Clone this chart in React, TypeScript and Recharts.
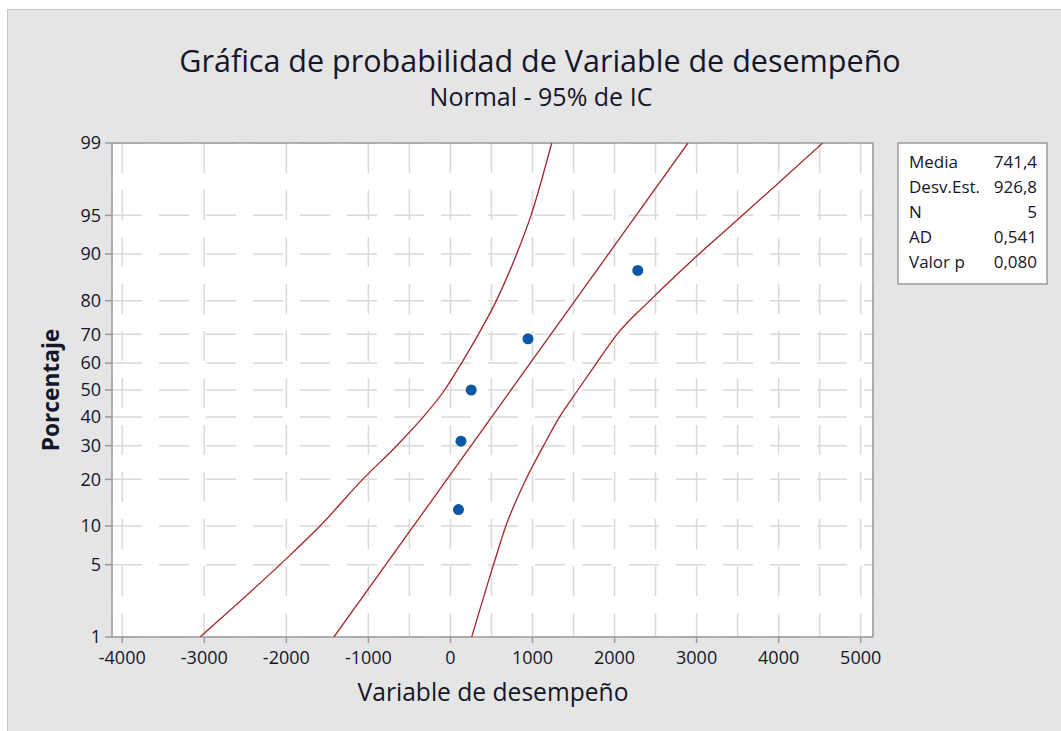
import { ScatterChart, Scatter, XAxis, YAxis, CartesianGrid, ReferenceLine } from 'recharts';

// probability axis labels (percent)
const percentTicks = [1, 5, 10, 20, 30, 40, 50, 60, 70, 80, 90, 95, 99];
const xTicks = [-4000, -3000, -2000, -1000, 0, 1000, 2000, 3000, 4000, 5000];
const xGridTicks = [-4000, -3500, -3000, -2500, -2000, -1500, -1000, -500, 0, 500, 1000, 1500, 2000, 2500, 3000, 3500, 4000, 4500, 5000];

// sample (Variable de desempeño) with its plotting positions
const sampleValues = [98, 128, 253, 945, 2283];
const samplePercents = [13.0, 31.5, 50.0, 68.5, 87.0];

// fitted line, read at 1% and 99%
const fitPercents = [1, 99];
const fitValues = [-1420, 2895];

// 95% confidence bands, read at each percent gridline
const bandPercents = [1, 5, 10, 20, 30, 40, 50, 60, 70, 80, 90, 95, 99];
const leftBand = [-3052, -2077, -1590, -1070, -655, -331, -71, 135, 340, 560, 807, 982, 1234];
const rightBand = [259, 525, 675, 920, 1135, 1330, 1553, 1780, 2030, 2430, 3030, 3560, 4537];

const statLabels = ['Media', 'Desv.Est.', 'N', 'AD', 'Valor p'];
const statValues = ['741,4', '926,8', '5', '0,541', '0,080'];

// inverse normal cdf, used as the probability scale of the y axis
function probit(p: number) {
  const a = [-39.69683028665376, 220.9460984245205, -275.9285104469687, 138.357751867269, -30.66479806614716, 2.506628277459239];
  const b = [-54.47609879822406, 161.5858368580409, -155.6989798598866, 66.80131188771972, -13.28068155288572];
  const c = [-0.007784894002430293, -0.3223964580411365, -2.400758277161838, -2.549732539343734, 4.374664141464968, 2.938163982698783];
  const d = [0.007784695709041462, 0.3224671290700398, 2.445134137142996, 3.754408661907416];
  const pl = 0.02425;
  if (p < pl) {
    const q = Math.sqrt(-2 * Math.log(p));
    return (((((c[0] * q + c[1]) * q + c[2]) * q + c[3]) * q + c[4]) * q + c[5]) / ((((d[0] * q + d[1]) * q + d[2]) * q + d[3]) * q + 1);
  }
  if (p > 1 - pl) {
    const q = Math.sqrt(-2 * Math.log(1 - p));
    return -(((((c[0] * q + c[1]) * q + c[2]) * q + c[3]) * q + c[4]) * q + c[5]) / ((((d[0] * q + d[1]) * q + d[2]) * q + d[3]) * q + 1);
  }
  const q = p - 0.5;
  const r = q * q;
  return (((((a[0] * r + a[1]) * r + a[2]) * r + a[3]) * r + a[4]) * r + a[5]) * q / (((((b[0] * r + b[1]) * r + b[2]) * r + b[3]) * r + b[4]) * r + 1);
}

const z = (pct: number) => probit(pct / 100);
const toPoints = (xs: number[], ps: number[]) => xs.map((x, i) => ({ x, y: z(ps[i]) }));

const samplePoints = toPoints(sampleValues, samplePercents);
const fitPoints = toPoints(fitValues, fitPercents);
const leftPoints = toPoints(leftBand, bandPercents);
const rightPoints = toPoints(rightBand, bandPercents);

const yTicks = percentTicks.map(z);
const labelFor = new Map(yTicks.map((t, i) => [t, String(percentTicks[i])]));
const yDomain = [z(1), z(99)];
const xDomain = [-4125, 5150];

const FONT = '"Open Sans", "Noto Sans", sans-serif';
const TEXT = '#16162a';
const AXIS = '#9a9a9a';
const RED = '#a2262b';
const BLUE = '#0b57a4';

const noShape = () => <g />;
const dot = (props: any) => <circle cx={props.cx} cy={props.cy} r={5.5} fill={BLUE} />;

export default function App() {
  return (
    <div style={{ position: 'absolute', left: 0, top: 0, width: 1061, height: 731, background: '#fff', fontFamily: FONT }}>
      <div style={{ position: 'absolute', left: 7, top: 9, width: 1054, height: 722, background: '#e5e5e5', borderLeft: '1px solid #c6c6c6', borderTop: '1px solid #c6c6c6' }} />
      <div style={{ position: 'absolute', left: 0, top: 0 }}>
        <ScatterChart width={1061} height={731} margin={{ top: 143, right: 188, bottom: 64, left: 42 }}>
          <CartesianGrid xAxisId="grid" fill="#ffffff" stroke="#d9d9d9" strokeWidth={1.5} strokeDasharray="30 17" />
          <XAxis xAxisId="grid" type="number" dataKey="x" domain={xDomain} ticks={xGridTicks} allowDataOverflow hide />
          <XAxis
            type="number"
            dataKey="x"
            domain={xDomain}
            ticks={xTicks}
            allowDataOverflow
            height={30}
            tickSize={6}
            tickMargin={8}
            axisLine={{ stroke: AXIS, strokeWidth: 1.5 }}
            tickLine={{ stroke: AXIS, strokeWidth: 1.5 }}
            tick={{ fill: TEXT, fontSize: 18, fontFamily: FONT }}
          />
          <YAxis
            type="number"
            dataKey="y"
            domain={yDomain}
            ticks={yTicks}
            allowDataOverflow
            width={70}
            tickSize={7}
            tickMargin={4}
            tickFormatter={(v: number) => labelFor.get(v) ?? ''}
            axisLine={{ stroke: AXIS, strokeWidth: 1.5 }}
            tickLine={{ stroke: AXIS, strokeWidth: 1.5 }}
            tick={{ fill: TEXT, fontSize: 18, fontFamily: FONT }}
          />
          <ReferenceLine y={yDomain[1]} stroke={AXIS} strokeWidth={1.5} />
          <ReferenceLine x={xDomain[1]} stroke={AXIS} strokeWidth={1.5} />
          <Scatter data={leftPoints} line={{ stroke: RED, strokeWidth: 1.3 }} lineJointType="monotoneX" shape={noShape} isAnimationActive={false} />
          <Scatter data={rightPoints} line={{ stroke: RED, strokeWidth: 1.3 }} lineJointType="monotoneX" shape={noShape} isAnimationActive={false} />
          <Scatter data={fitPoints} line={{ stroke: RED, strokeWidth: 1.3 }} shape={noShape} isAnimationActive={false} />
          <Scatter data={samplePoints} shape={dot} isAnimationActive={false} />
        </ScatterChart>
      </div>
      <svg width={1061} height={731} style={{ position: 'absolute', left: 0, top: 0, pointerEvents: 'none' }}>
        <text x={540} y={72} textAnchor="middle" fontSize={30.5} fill={TEXT} fontFamily={FONT}>
          Gráfica de probabilidad de Variable de desempeño
        </text>
        <text x={541} y={106} textAnchor="middle" fontSize={25} fill={TEXT} fontFamily={FONT}>
          Normal - 95% de IC
        </text>
        <text x={493} y={701} textAnchor="middle" fontSize={24.6} fill={TEXT} fontFamily={FONT}>
          Variable de desempeño
        </text>
        <text x={59} y={390} textAnchor="middle" fontSize={22.7} fontWeight="bold" fill={TEXT} fontFamily={FONT} transform="rotate(-90 59 390)">
          Porcentaje
        </text>
        <rect x={898} y={143} width={149} height={141} fill="#ffffff" stroke={AXIS} strokeWidth={1.5} />
        {statLabels.map((s, i) => (
          <text key={s} x={909} y={168 + i * 25} fontSize={17} fill={TEXT} fontFamily={FONT}>
            {s}
          </text>
        ))}
        {statValues.map((s, i) => (
          <text key={i} x={1037} y={168 + i * 25} textAnchor="end" fontSize={17} fill={TEXT} fontFamily={FONT}>
            {s}
          </text>
        ))}
      </svg>
    </div>
  );
}
